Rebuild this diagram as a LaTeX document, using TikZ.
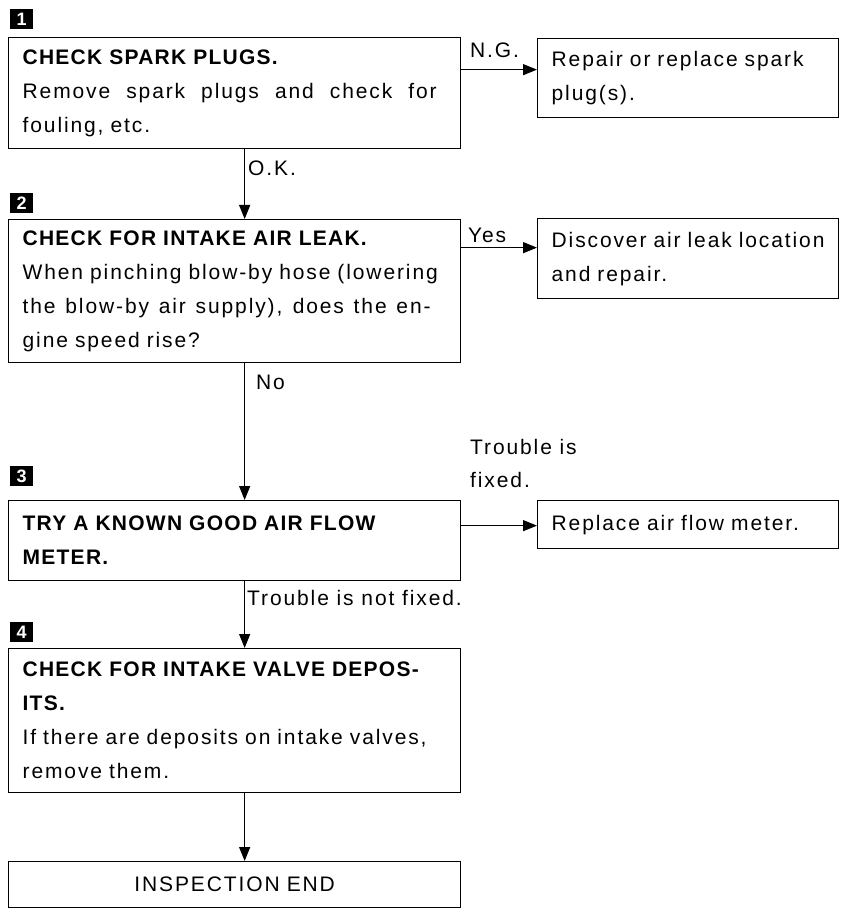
\documentclass[tikz,border=0pt]{standalone}
\usepackage{fontspec}
\setmainfont{Liberation Sans}[LetterSpace=9,BoldFeatures={LetterSpace=6}]
\usetikzlibrary{arrows.meta}
\newcommand{\wideline}[2]{\leavevmode\hbox to #1{\spaceskip=\fontdimen2\font plus 1fil\relax #2}}
\begin{document}
\begin{tikzpicture}[x=1pt,y=-1pt,
	box/.style={draw, line width=1.3pt, anchor=north west, align=left, inner xsep=14pt, inner ysep=0pt, text width=424pt, font=\fontsize{21}{34}\selectfont},
	sbox/.style={box, text width=273pt},
	num/.style={fill=black, anchor=north west, minimum width=23pt, minimum height=20pt, inner sep=0pt, text=white, font=\fontsize{18}{18}\selectfont\bfseries},
	lbl/.style={anchor=base west, inner sep=0pt, font=\fontsize{21}{33}\selectfont},
	arr/.style={line width=1.3pt, -{Triangle[length=14pt,width=11pt]}}]
	\useasboundingbox (0,0) rectangle (841,909);
	%---------------- STEP 1 ----------------
	\node[num] (n1) at (10,9) {1};
	\node[box, minimum height=111pt] (s1) at (8,37) {\textbf{CHECK SPARK PLUGS.}\\\wideline{414pt}{Remove spark plugs and check for}\\fouling, etc.};
	\node[sbox, minimum height=79pt] (r1) at (537,38) {Repair or replace spark\\plug(s).};
	\draw[arr] ([yshift=23.5pt]s1.east) -- ([yshift=23.5pt]s1.east -| r1.west);
	\node[lbl] (ng) at (470,58) {N.G.};
	\draw[arr] ([xshift=10pt]s1.south) -- ([xshift=10pt]s1.south |- 0,219) coordinate (t2);
	\node[lbl] (ok) at (248,176) {O.K.};
	%---------------- STEP 2 ----------------
	\node[num] (n2) at (10,193) {2};
	\node[box, minimum height=143pt] (s2) at (8,219) {\textbf{CHECK FOR INTAKE AIR LEAK.}\\When pinching blow-by hose (lowering\\\wideline{408pt}{the blow-by air supply), does the en-}\\gine speed rise?};
	\node[sbox, minimum height=80pt] (r2) at (537,218) {Discover air leak location\\and repair.};
	\draw[arr] ([yshift=43.5pt]s2.east) -- ([yshift=43.5pt]s2.east -| r2.west);
	\node[lbl] (yes) at (468,242) {Yes};
	\node[lbl] (no) at (256,389) {No};
	%---------------- STEP 3 ----------------
	\node[num] (n3) at (10,466) {3};
	\node[box, minimum height=80pt] (s3) at (8,500) {\textbf{TRY A KNOWN GOOD AIR FLOW}\\\textbf{METER.}};
	\node[sbox, minimum height=48pt] (r3) at (537,500) {Replace air flow meter.};
	\draw[arr] ([xshift=10pt]s2.south) -- ([xshift=10pt]s3.north);
	\draw[arr] ([yshift=15pt]s3.east) -- ([yshift=15pt]s3.east -| r3.west);
	\node[lbl, anchor=north west, align=left] (fix) at (470,439) {Trouble is\\fixed.};
	\node[lbl] (nofix) at (247,605) {Trouble is not fixed.};
	%---------------- STEP 4 ----------------
	\node[num] (n4) at (10,622) {4};
	\node[box, minimum height=144pt] (s4) at (8,648) {\textbf{CHECK FOR INTAKE VALVE DEPOS-}\\\textbf{ITS.}\\If there are deposits on intake valves,\\remove them.};
	\node[box, align=center, minimum height=46pt] (s5) at (8,861) {INSPECTION END};
	\draw[arr] ([xshift=10pt]s3.south) -- ([xshift=10pt]s4.north);
	\draw[arr] ([xshift=10pt]s4.south) -- ([xshift=10pt]s5.north);
\end{tikzpicture}
\end{document}
